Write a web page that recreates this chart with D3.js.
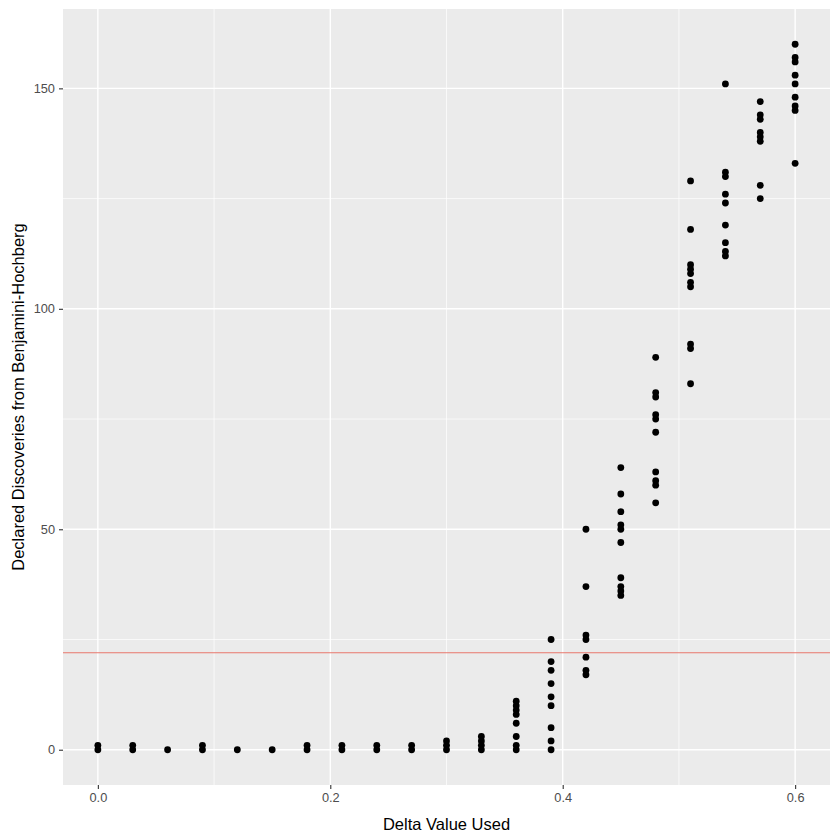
<!DOCTYPE html>
<html>
<head>
<meta charset="utf-8">
<script src="https://cdn.jsdelivr.net/npm/d3@7"></script>
<style>
  body { margin: 0; background: #fff; }
  text { font-family: "Liberation Sans", Arial, sans-serif; }
</style>
</head>
<body>
<svg id="chart"></svg>
<script>
// delta values tested, one column of points per delta
var deltaValues = [0.00, 0.03, 0.06, 0.09, 0.12, 0.15, 0.18, 0.21, 0.24, 0.27,
                   0.30, 0.33, 0.36, 0.39, 0.42, 0.45, 0.48, 0.51, 0.54, 0.57, 0.60];

// declared discoveries for each delta
var discoveries = [
    [1, 0],
    [1, 0],
    [0],
    [1, 0],
    [0],
    [0],
    [1, 0],
    [1, 0],
    [1, 0],
    [1, 0],
    [2, 1, 0],
    [3, 2, 1, 0],
    [11, 10, 9, 8, 6, 3, 1, 0],
    [25, 20, 18, 15, 12, 10, 5, 2, 0],
    [50, 37, 26, 25, 21, 18, 17],
    [64, 58, 54, 51, 50, 47, 39, 37, 36, 35],
    [89, 81, 80, 76, 75, 72, 63, 61, 60, 56],
    [129, 118, 110, 109, 108, 106, 105, 92, 91, 83],
    [151, 131, 130, 126, 124, 119, 115, 113, 112],
    [147, 144, 143, 140, 139, 138, 128, 125],
    [160, 157, 156, 153, 151, 148, 146, 145, 133]
];

var xTicks = [0, 0.2, 0.4, 0.6];
var xMinor = [0.1, 0.3, 0.5];
var yTicks = [0, 50, 100, 150];
var yMinor = [25, 75, 125];
var cutoffLine = 22;

var xLabel = "Delta Value Used";
var yLabel = "Declared Discoveries from Benjamini-Hochberg";

// flatten into rows
var data = [];
for (let i = 0; i < deltaValues.length; i++) {
    for (let j = 0; j < discoveries[i].length; j++) {
        data.push({delta: deltaValues[i], count: discoveries[i][j]});
    }
}

var svgWidth = 840;
var svgHeight = 840;
var margin = {top: 9, right: 10, bottom: 55, left: 63};
var chartWidth = svgWidth - margin.left - margin.right;
var chartHeight = svgHeight - margin.top - margin.bottom;

var svg = d3.select('#chart')
    .attr('width', svgWidth)
    .attr('height', svgHeight);

// ggplot style 5% expansion
var xExtent = d3.extent(deltaValues);
var xPad = (xExtent[1] - xExtent[0]) * 0.05;
var xScale = d3.scaleLinear()
    .domain([xExtent[0] - xPad, xExtent[1] + xPad])
    .range([0, chartWidth]);

var yExtent = d3.extent(data, d => d.count);
var yPad = (yExtent[1] - yExtent[0]) * 0.05;
var yScale = d3.scaleLinear()
    .domain([yExtent[0] - yPad, yExtent[1] + yPad])
    .range([chartHeight, 0]);

var chart = svg.append('g')
    .attr('transform', `translate(${margin.left}, ${margin.top})`);

// panel background
chart.append('rect')
    .attr('width', chartWidth)
    .attr('height', chartHeight)
    .attr('fill', '#EBEBEB');

// minor grid
chart.selectAll('.ygrid-minor').data(yMinor).enter().append('line')
    .attr('x1', 0).attr('x2', chartWidth)
    .attr('y1', d => yScale(d)).attr('y2', d => yScale(d))
    .attr('stroke', '#fff').attr('stroke-width', 0.7);
chart.selectAll('.xgrid-minor').data(xMinor).enter().append('line')
    .attr('y1', 0).attr('y2', chartHeight)
    .attr('x1', d => xScale(d)).attr('x2', d => xScale(d))
    .attr('stroke', '#fff').attr('stroke-width', 0.7);

// major grid
chart.selectAll('.ygrid').data(yTicks).enter().append('line')
    .attr('x1', 0).attr('x2', chartWidth)
    .attr('y1', d => yScale(d)).attr('y2', d => yScale(d))
    .attr('stroke', '#fff').attr('stroke-width', 1.4);
chart.selectAll('.xgrid').data(xTicks).enter().append('line')
    .attr('y1', 0).attr('y2', chartHeight)
    .attr('x1', d => xScale(d)).attr('x2', d => xScale(d))
    .attr('stroke', '#fff').attr('stroke-width', 1.4);

// threshold line
chart.append('line')
    .attr('x1', 0).attr('x2', chartWidth)
    .attr('y1', yScale(cutoffLine)).attr('y2', yScale(cutoffLine))
    .attr('stroke', '#E8776C')
    .attr('stroke-width', 1.1);

// points
chart.selectAll('circle').data(data).enter().append('circle')
    .attr('cx', d => xScale(d.delta))
    .attr('cy', d => yScale(d.count))
    .attr('r', 3.4)
    .attr('fill', '#000');

// axes
var xAxis = chart.append('g')
    .attr('transform', `translate(0, ${chartHeight})`)
    .call(d3.axisBottom(xScale).tickValues(xTicks).tickFormat(d3.format('.1f')).tickSizeOuter(0).tickSize(4).tickPadding(4));
var yAxis = chart.append('g')
    .call(d3.axisLeft(yScale).tickValues(yTicks).tickSizeOuter(0).tickSize(4).tickPadding(4));

[xAxis, yAxis].forEach(function(axis) {
    axis.select('.domain').remove();
    axis.selectAll('line').attr('stroke', '#333').attr('stroke-width', 1.1);
    axis.selectAll('text')
        .attr('fill', '#4D4D4D')
        .style('font-size', '12.8px')
        .style('font-family', '"Liberation Sans", Arial, sans-serif');
});

// axis titles
svg.append('text')
    .attr('x', margin.left + chartWidth / 2)
    .attr('y', 830)
    .attr('text-anchor', 'middle')
    .style('font-size', '16.5px')
    .attr('fill', '#000')
    .text(xLabel);

svg.append('text')
    .attr('transform', `translate(24, ${margin.top + chartHeight / 2}) rotate(-90)`)
    .attr('text-anchor', 'middle')
    .style('font-size', '16.5px')
    .attr('fill', '#000')
    .text(yLabel);
</script>
</body>
</html>
